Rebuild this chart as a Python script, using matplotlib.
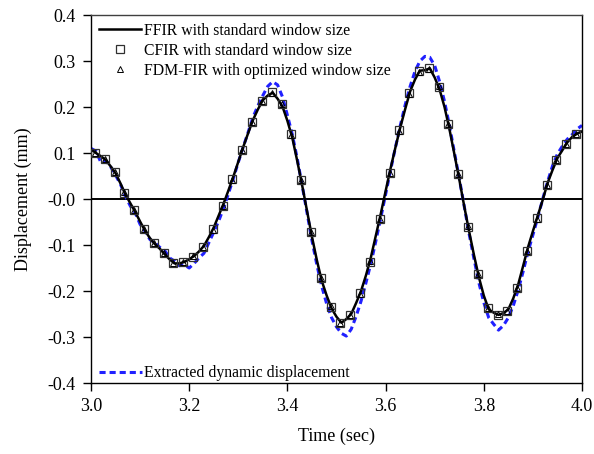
import numpy as np
import matplotlib.pyplot as plt

plt.rcParams['font.family'] = ['Liberation Serif', 'DejaVu Serif']

# time grid of the continuous curves (sec)
t_line = [3.00 + 0.01 * i for i in range(101)]

# FFIR with standard window size (black line)
ffir = [0.108, 0.100, 0.093, 0.085, 0.071, 0.056, 0.034, 0.010, -0.009, -0.028,
        -0.049, -0.069, -0.085, -0.098, -0.108, -0.120, -0.131, -0.140, -0.140, -0.137,
        -0.131, -0.124, -0.114, -0.102, -0.083, -0.062, -0.036, -0.010, 0.019, 0.049,
        0.081, 0.113, 0.143, 0.172, 0.195, 0.215, 0.225, 0.231, 0.218, 0.201,
        0.170, 0.133, 0.083, 0.030, -0.026, -0.082, -0.133, -0.178, -0.210, -0.238,
        -0.256, -0.269, -0.261, -0.250, -0.226, -0.200, -0.166, -0.127, -0.080, -0.033,
        0.017, 0.066, 0.112, 0.156, 0.196, 0.234, 0.260, 0.279, 0.280, 0.284,
        0.264, 0.238, 0.200, 0.152, 0.098, 0.043, -0.015, -0.070, -0.122, -0.170,
        -0.210, -0.240, -0.247, -0.252, -0.248, -0.240, -0.216, -0.186, -0.146, -0.105,
        -0.070, -0.036, -0.002, 0.035, 0.063, 0.089, 0.106, 0.123, 0.135, 0.142,
        0.147]

# extracted dynamic displacement (blue dashed)
extracted = [0.110, 0.104, 0.080, 0.083, 0.070, 0.052, 0.032, 0.006, -0.015, -0.030,
             -0.055, -0.070, -0.088, -0.095, -0.105, -0.112, -0.128, -0.135, -0.145, -0.143,
             -0.150, -0.140, -0.128, -0.118, -0.095, -0.072, -0.048, -0.020, 0.012, 0.045,
             0.080, 0.113, 0.145, 0.178, 0.203, 0.225, 0.245, 0.255, 0.248, 0.222,
             0.182, 0.140, 0.088, 0.030, -0.030, -0.090, -0.143, -0.190, -0.228, -0.258,
             -0.278, -0.292, -0.298, -0.283, -0.255, -0.222, -0.182, -0.140, -0.092, -0.042,
             0.010, 0.062, 0.112, 0.160, 0.205, 0.245, 0.278, 0.300, 0.310, 0.308,
             0.290, 0.255, 0.212, 0.160, 0.102, 0.045, -0.015, -0.075, -0.130, -0.182,
             -0.225, -0.258, -0.272, -0.285, -0.275, -0.258, -0.232, -0.198, -0.158, -0.115,
             -0.078, -0.040, 0.000, 0.038, 0.072, 0.098, 0.115, 0.130, 0.140, 0.152,
             0.160]

# sample times of the marker series (sec)
t_mark = [3.008 + 0.02 * k for k in range(50)]

# CFIR with standard window size (squares)
cfir = [0.101, 0.086, 0.059, 0.014, -0.024, -0.066, -0.095, -0.117, -0.140, -0.138,
        -0.125, -0.105, -0.066, -0.015, 0.043, 0.107, 0.168, 0.213, 0.232, 0.206,
        0.141, 0.041, -0.071, -0.172, -0.234, -0.270, -0.252, -0.205, -0.136, -0.043,
        0.057, 0.149, 0.230, 0.278, 0.284, 0.244, 0.163, 0.054, -0.060, -0.164,
        -0.238, -0.252, -0.243, -0.193, -0.113, -0.042, 0.030, 0.085, 0.120, 0.141]

# FDM-FIR with optimized window size (triangles)
fdm = [0.100, 0.086, 0.058, 0.015, -0.024, -0.065, -0.095, -0.118, -0.139, -0.138,
       -0.124, -0.105, -0.067, -0.015, 0.042, 0.107, 0.167, 0.212, 0.231, 0.207,
       0.140, 0.042, -0.071, -0.171, -0.233, -0.269, -0.252, -0.206, -0.135, -0.044,
       0.057, 0.148, 0.229, 0.277, 0.283, 0.245, 0.164, 0.054, -0.059, -0.163,
       -0.237, -0.251, -0.243, -0.194, -0.113, -0.043, 0.031, 0.085, 0.119, 0.141]

fig = plt.figure(figsize=(5.94, 4.54), dpi=100)
ax = fig.add_axes([91/594, 71/454, 491/594, 368/454])

ax.axhline(0, color='black', lw=1.4, zorder=1)
ext_line, = ax.plot(t_line, extracted, color='#2020ff', lw=2.2, ls=(0, (2.0, 1.3)), zorder=2)
ffir_line, = ax.plot(t_line, ffir, color='black', lw=1.8, zorder=3)
sq, = ax.plot(t_mark, cfir, ls='none', marker='s', ms=6, mfc='none', mec='#303030', mew=0.9, zorder=4)
tri, = ax.plot(t_mark, fdm, ls='none', marker='^', ms=4, mfc='none', mec='black', mew=0.7, zorder=5)

ax.set_xlim(3.0, 4.0)
ax.set_ylim(-0.4, 0.4)
ax.set_xticks(np.arange(3.0, 4.01, 0.2))
ax.set_yticks(np.arange(-0.4, 0.41, 0.1))
ax.xaxis.set_major_formatter(plt.FormatStrFormatter('%.1f'))
ax.yaxis.set_major_formatter(plt.FormatStrFormatter('%.1f'))
ax.tick_params(direction='out', length=6, width=1, labelsize=13, top=False, right=False, pad=5)
ax.set_xlabel('Time (sec)', fontsize=13, labelpad=9)
ax.set_ylabel('Displacement (mm)', fontsize=13, labelpad=11)
for s in ax.spines.values():
    s.set_linewidth(1)
ax.spines['top'].set_color('#404040')

leg1 = ax.legend([ffir_line, sq, tri],
                 ['FFIR with standard window size', 'CFIR with standard window size',
                  'FDM-FIR with optimized window size'],
                 loc='upper left', frameon=False, fontsize=11.3, handlelength=2.7,
                 handletextpad=0.15, labelspacing=0.25, borderaxespad=0.2,
                 borderpad=0.3)
ax.add_artist(leg1)
ax.legend([ext_line], ['Extracted dynamic displacement'], loc='lower left',
          bbox_to_anchor=(0.014, 0.0), frameon=False, fontsize=11.3,
          handlelength=2.7, handletextpad=0.15, borderaxespad=0.0, borderpad=0.1)

fig.savefig('out.png', dpi=100)
